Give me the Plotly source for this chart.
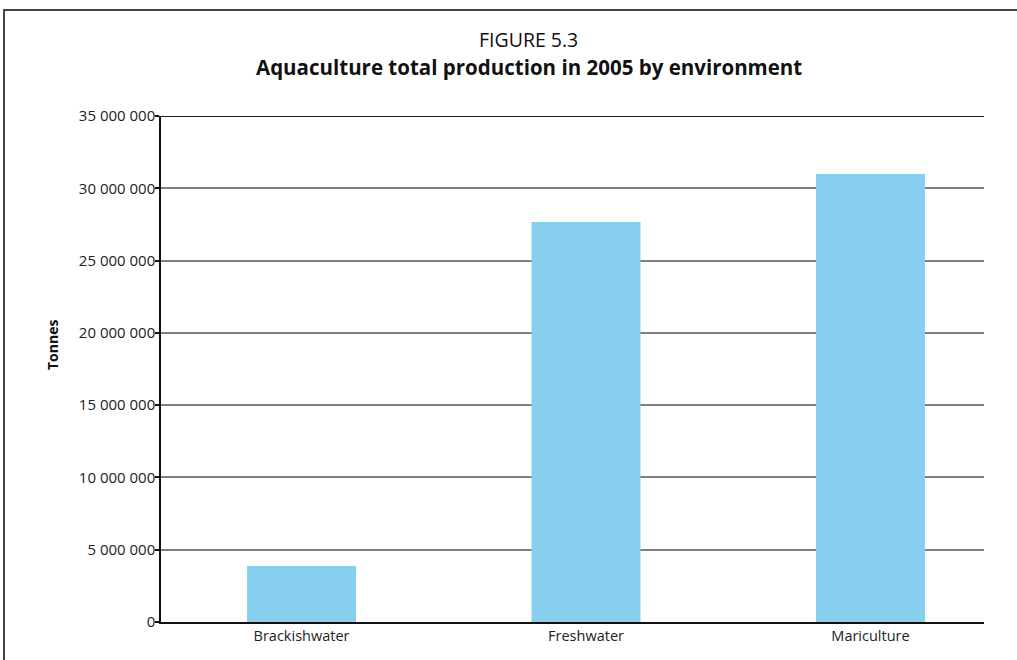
import plotly.graph_objects as go

categories = ["Brackishwater", "Freshwater", "Mariculture"]
values = [3870000, 27660000, 30980000]
y_ticks = [0, 5000000, 10000000, 15000000, 20000000, 25000000, 30000000, 35000000]

W, H = 1017, 660
L, R, T, B = 161, 33, 116, 38
pw, ph = W - L - R, H - T - B

fig = go.Figure(go.Bar(
    x=categories, y=values, marker_color="#86CFEF", width=0.383,
    marker_line_width=0,
))

font_family = "Open Sans, Noto Sans, sans-serif"

def px_x(x):
    return (x - L) / pw

def px_y(y):
    return 1 - (y - T) / ph

fig.update_layout(
    width=W, height=H,
    margin=dict(l=L, r=R, t=T, b=B),
    paper_bgcolor="white", plot_bgcolor="white",
    separators=". ",
    font=dict(family=font_family, color="#222", size=14),
    showlegend=False,
    xaxis=dict(
        range=[-0.494, 2.399], showline=True, linecolor="#111", linewidth=2,
        ticks="", showgrid=False, tickfont=dict(size=14.5, color="#222"),
    ),
    yaxis=dict(
        range=[0, 35000000], tickvals=y_ticks, tickformat=",d",
        showline=True, linecolor="#111", linewidth=1.5,
        ticks="outside", ticklen=4, tickcolor="#111", tickwidth=1.5,
        ticklabelstandoff=-3,
        showgrid=True, gridcolor="#808080", gridwidth=1.5,
        zeroline=False, tickfont=dict(size=15, color="#222"),
    ),
    annotations=[
        dict(text="FIGURE 5.3", xref="paper", yref="paper",
             x=px_x(528.5), y=px_y(39), xanchor="center", yanchor="middle",
             showarrow=False, font=dict(size=19.5, color="#111")),
        dict(text="<b>Aquaculture total production in 2005 by environment</b>",
             xref="paper", yref="paper",
             x=px_x(528.5), y=px_y(66.5), xanchor="center", yanchor="middle",
             showarrow=False, font=dict(size=20.5, color="#111")),
        dict(text="<b>Tonnes</b>", xref="paper", yref="paper",
             x=px_x(52), y=px_y(345), xanchor="center", yanchor="middle",
             textangle=-90, showarrow=False, font=dict(size=14, color="#111")),
    ],
    shapes=[
        dict(type="line", xref="paper", yref="y", x0=0, x1=1, y0=35000000, y1=35000000,
             line=dict(color="#222", width=2)),
        dict(type="rect", xref="paper", yref="paper",
             x0=(4 - L) / pw, x1=(W + 20 - L) / pw,
             y0=-0.3, y1=1 + (T - 10) / ph,
             line=dict(color="#444", width=2)),
    ],
)

fig.write_html("out.html")
